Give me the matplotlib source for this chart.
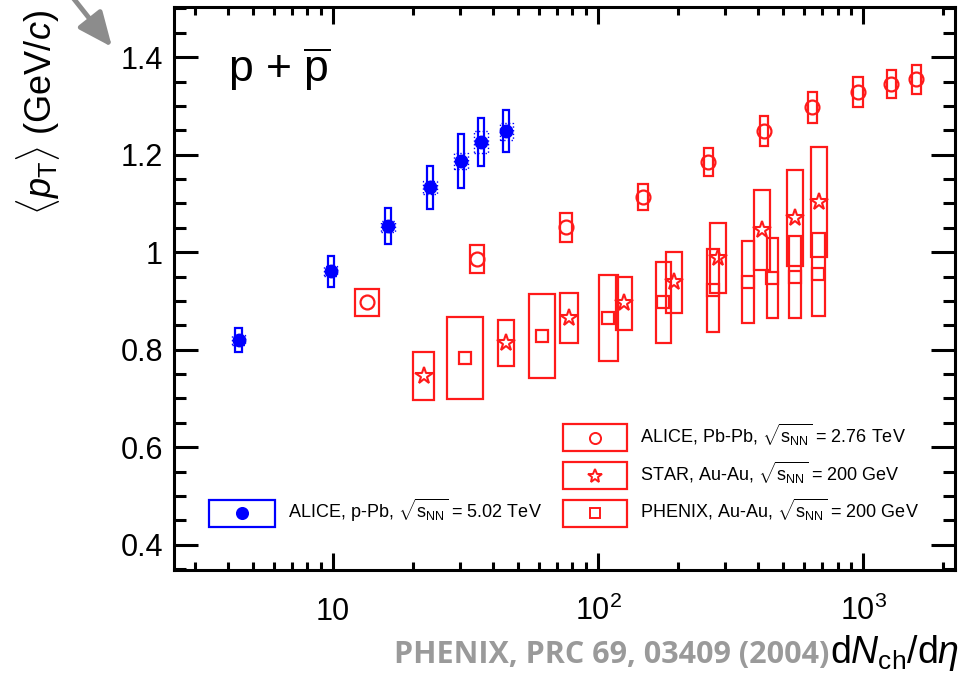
"""<pT> of p + pbar versus dNch/deta: ALICE p-Pb compared with heavy-ion data."""
import matplotlib
matplotlib.use("Agg")
import matplotlib.pyplot as plt
from matplotlib.patches import Rectangle
from matplotlib.ticker import FixedLocator, LogLocator, MultipleLocator, NullFormatter

plt.rcParams["font.family"] = ["Liberation Sans", "DejaVu Sans"]
plt.rcParams["mathtext.fontset"] = "custom"
plt.rcParams["mathtext.rm"] = "Liberation Sans"
plt.rcParams["mathtext.it"] = "Liberation Sans:italic"
plt.rcParams["mathtext.bf"] = "Liberation Sans:bold"

# ALICE p-Pb 5.02 TeV
ppb_x = [4.4, 9.8, 16.1, 23.2, 30.4, 36.1, 45.0]
ppb_y = [0.820, 0.961, 1.053, 1.133, 1.187, 1.226, 1.248]
ppb_sys = [0.025, 0.032, 0.037, 0.044, 0.055, 0.049, 0.043]
ppb_stat = [0.010, 0.010, 0.012, 0.013, 0.017, 0.022, 0.018]

# ALICE Pb-Pb 2.76 TeV
pbpb_x = [13.4, 34.9, 75.7, 148, 260, 423, 643, 957, 1276, 1585]
pbpb_y = [0.897, 0.986, 1.051, 1.113, 1.185, 1.248, 1.297, 1.328, 1.345, 1.355]
pbpb_sys = [0.027, 0.028, 0.030, 0.027, 0.028, 0.031, 0.031, 0.031, 0.029, 0.030]

# STAR Au-Au 200 GeV
star_x = [22.0, 45.0, 77.6, 125, 194, 284, 416, 553, 682]
star_y = [0.746, 0.813, 0.865, 0.895, 0.938, 0.988, 1.045, 1.070, 1.103]
star_sys = [0.049, 0.047, 0.052, 0.054, 0.062, 0.071, 0.082, 0.098, 0.112]

# PHENIX Au-Au 200 GeV
phenix_x = [31.5, 61.5, 109, 176, 272, 368, 454, 554, 676]
phenix_y = [0.783, 0.828, 0.865, 0.897, 0.922, 0.938, 0.947, 0.949, 0.955]
phenix_sys = [0.084, 0.086, 0.088, 0.083, 0.085, 0.084, 0.083, 0.084, 0.085]

# box widths in decades of dNch/deta
ppb_w = [0.0245] * len(ppb_x)
pbpb_w = [0.091, 0.053, 0.045, 0.038, 0.034, 0.030, 0.034, 0.038, 0.034, 0.034]
star_w = [0.079, 0.060, 0.068, 0.060, 0.060, 0.060, 0.060, 0.064, 0.060]
phenix_w = [0.136, 0.098, 0.072, 0.057, 0.045, 0.045, 0.042, 0.045, 0.049]

xtick_vals = [10, 100, 1000]
xtick_labels = ["10", "$10^{2}$", "$10^{3}$"]
ytick_vals = [0.4, 0.6, 0.8, 1.0, 1.2, 1.4]
ytick_labels = ["0.4", "0.6", "0.8", "1", "1.2", "1.4"]

legend_labels = [
    r"ALICE, Pb-Pb, $\sqrt{\mathrm{s}_{\rm NN}}$ = 2.76 TeV",
    r"STAR, Au-Au, $\sqrt{\mathrm{s}_{\rm NN}}$ = 200 GeV",
    r"PHENIX, Au-Au, $\sqrt{\mathrm{s}_{\rm NN}}$ = 200 GeV",
]
legend_ppb = r"ALICE, p-Pb, $\sqrt{\mathrm{s}_{\rm NN}}$ = 5.02 TeV"

BLUE = "#0000ff"
RED = "#ff1a1a"


def boxes(ax, xs, ys, errs, widths, color, lw=1.6, ls="-"):
    for x, y, e, w in zip(xs, ys, errs, widths):
        f = 10 ** (w / 2)
        ax.add_patch(Rectangle((x / f, y - e), x * f - x / f, 2 * e,
                               fill=False, ec=color, lw=lw, ls=ls, zorder=2))


W, H = 974, 675
fig = plt.figure(figsize=(W / 100, H / 100), dpi=100)
ax = fig.add_axes([174 / W, 105 / H, 781 / W, 563 / H])

boxes(ax, pbpb_x, pbpb_y, pbpb_sys, pbpb_w, RED)
boxes(ax, star_x, star_y, star_sys, star_w, RED)
boxes(ax, phenix_x, phenix_y, phenix_sys, phenix_w, RED)
boxes(ax, ppb_x, ppb_y, ppb_sys, ppb_w, BLUE)
boxes(ax, ppb_x, ppb_y, ppb_stat, [0.05] * len(ppb_x), BLUE, lw=1.0, ls=":")

ax.plot(pbpb_x, pbpb_y, "o", ls="none", mfc="none", mec=RED, ms=10, mew=1.6, zorder=3)
ax.plot(star_x, star_y, "*", ls="none", mfc="none", mec=RED, ms=13, mew=1.5, zorder=3)
ax.plot(phenix_x, phenix_y, "s", ls="none", mfc="none", mec=RED, ms=9, mew=1.6, zorder=3)
ax.plot(ppb_x, ppb_y, "o", ls="none", color=BLUE, ms=9, zorder=4)

ax.set_xscale("log")
ax.set_xlim(2.51, 2220)
ax.set_ylim(0.348, 1.503)
ax.xaxis.set_major_locator(FixedLocator(xtick_vals))
ax.set_xticklabels(xtick_labels)
ax.xaxis.set_minor_locator(LogLocator(base=10, subs=range(2, 10), numticks=20))
ax.xaxis.set_minor_formatter(NullFormatter())
ax.yaxis.set_major_locator(FixedLocator(ytick_vals))
ax.set_yticklabels(ytick_labels)
ax.yaxis.set_minor_locator(MultipleLocator(0.05))

ax.tick_params(which="both", direction="in", top=True, right=True, width=2.2,
               labelsize=22)
ax.tick_params(axis="y", which="major", length=17, pad=8)
ax.tick_params(axis="y", which="minor", length=8.6)
ax.tick_params(axis="x", which="major", length=12, pad=36)
ax.tick_params(axis="x", which="minor", length=6)
for lbl in ax.get_xticklabels():
    lbl.set_verticalalignment("baseline")
for s in ax.spines.values():
    s.set_linewidth(2.2)

# system label
ax.text(0.069, 0.867, r"p + $\overline{\mathrm{p}}$", transform=ax.transAxes,
        fontsize=32, va="baseline", ha="left")

# legend drawn by hand, ROOT style
def legend_row(x0, x1, yc, color, marker, mfc, ms, label):
    h = 0.048
    ax.add_patch(Rectangle((x0, yc - h / 2), x1 - x0, h, transform=ax.transAxes,
                           fill=False, ec=color, lw=1.6, clip_on=False))
    ax.plot([(x0 + x1) / 2], [yc], marker, transform=ax.transAxes, color=color,
            mfc=mfc, mec=color, ms=ms, mew=1.4, clip_on=False)
    ax.text(x1 + 0.017, yc - 0.009, label, transform=ax.transAxes,
            fontsize=13, va="baseline", ha="left")


legend_row(0.498, 0.580, 0.2345, RED, "o", "none", 8, legend_labels[0])
legend_row(0.498, 0.580, 0.167, RED, "*", "none", 10, legend_labels[1])
legend_row(0.498, 0.580, 0.101, RED, "s", "none", 7.5, legend_labels[2])
legend_row(0.0448, 0.129, 0.101, BLUE, "o", BLUE, 8, legend_ppb)

# axis titles
fig.text(38 / W, 1 - 10 / H, r"$\langle p_{\rm T}\rangle$ (GeV/$c$)", rotation=90,
         fontsize=26, ha="center", va="top")
fig.text(830 / W, 12 / H, r"d$N_{\rm ch}$/d$\eta$", fontsize=27,
         ha="left", va="baseline")
fig.text(829 / W, 12 / H, "PHENIX, PRC 69, 03409 (2004)", fontsize=22,
         family="Open Sans", weight="bold", color="#9a9a9a",
         ha="right", va="baseline")

# grey pointer arrow at top left
ax.annotate("", xy=(112, H - 47), xycoords="figure pixels",
            xytext=(70, H + 6), textcoords="figure pixels",
            arrowprops=dict(arrowstyle="-|>,head_length=0.55,head_width=0.24",
                            color="#8c8c8c", lw=3.5, mutation_scale=38,
                            shrinkA=0, shrinkB=0),
            annotation_clip=False)

fig.savefig("out.png", dpi=100)
